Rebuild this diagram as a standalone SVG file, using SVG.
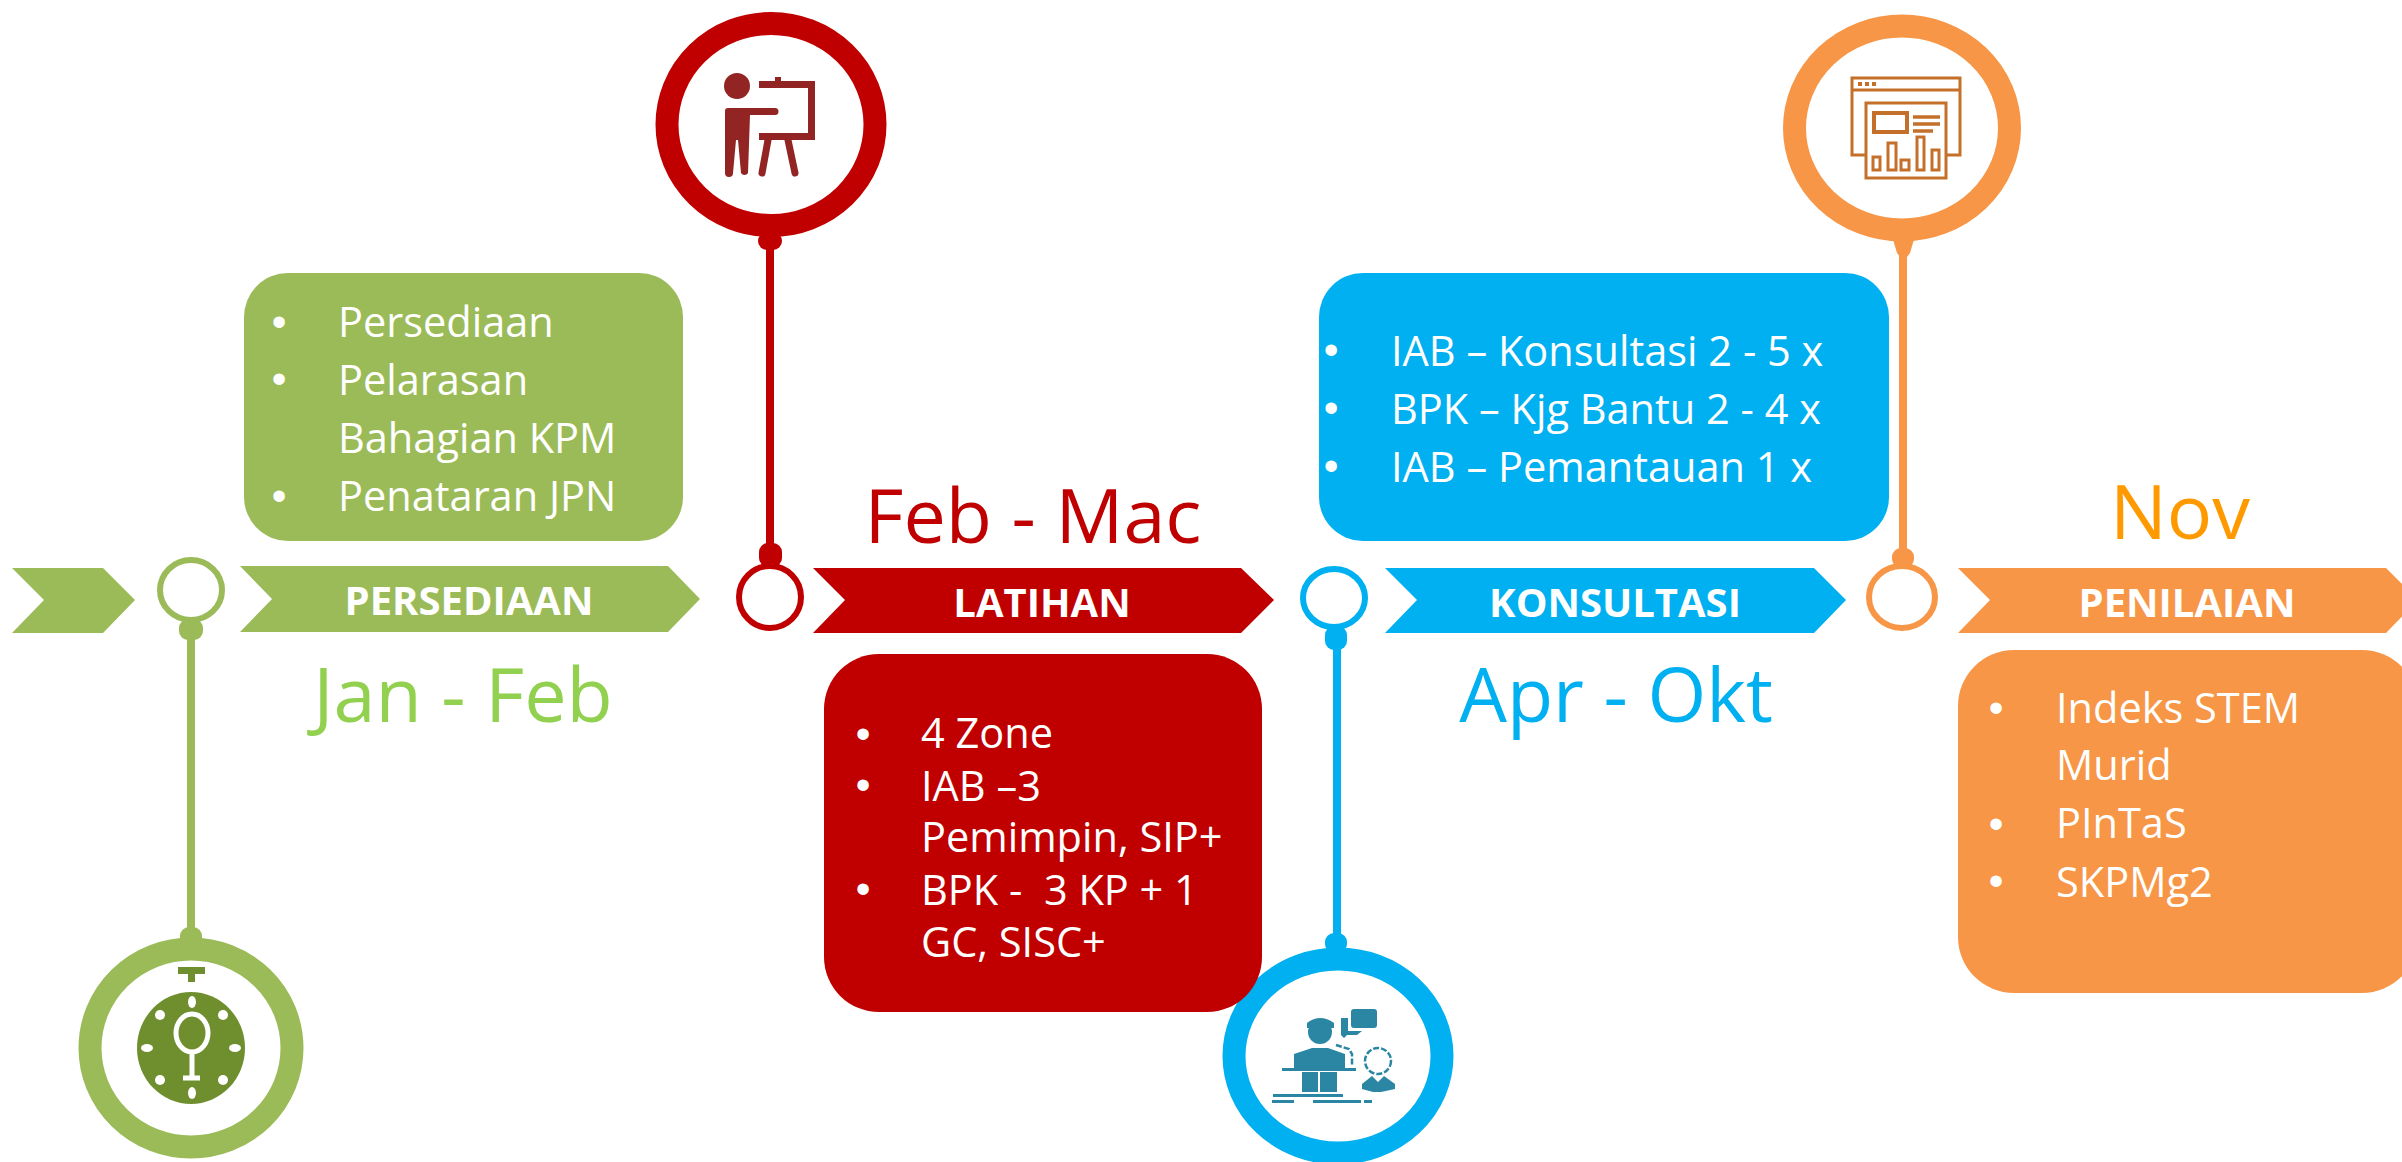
<svg xmlns="http://www.w3.org/2000/svg" width="2402" height="1162" viewBox="0 0 2402 1162">
<style>
text{font-family:"Open Sans","Noto Sans","Liberation Sans",sans-serif}
.b{font-size:41.5px;fill:#fff;white-space:pre}
.bu{font-family:"Liberation Sans",sans-serif;font-size:42px;fill:#fff;text-anchor:middle}
.l{font-size:40px;font-weight:700;fill:#fff;text-anchor:middle}
.d{font-size:75.5px;text-anchor:middle}
.g{fill:#9BBB59}.r{fill:#C00000}.c{fill:#00B0F0}.o{fill:#F79646}
.ring{fill:#fff;stroke-width:6}
.big{fill:#fff;stroke-width:23}
</style>
<g id="connectors">
<rect x="187" y="630" width="8" height="300" class="g"/>
<rect x="179" y="619" width="24" height="21" rx="9" class="g"/>
<rect x="180" y="927" width="22" height="20" rx="9" class="g"/>
<rect x="766" y="240" width="8" height="320" class="r"/>
<rect x="758" y="232" width="24" height="18" rx="9" class="r"/>
<rect x="759" y="543" width="23" height="24" rx="9" class="r"/>
<rect x="1333" y="640" width="8" height="300" class="c"/>
<rect x="1325" y="626" width="22" height="24" rx="9" class="c"/>
<rect x="1325" y="933" width="22" height="20" rx="9" class="c"/>
<rect x="1899" y="245" width="8" height="310" class="o"/>
<path d="M1892 236h23l-5 17-3 4h-7l-3-4z" class="o"/>
<rect x="1892" y="548" width="22" height="20" rx="9" class="o"/>
</g>
<g id="arrow-start"><path class="g" d="M12 568H103L135 600 103 633H12L44 600z"/></g>
<g id="persediaan"><path class="g" d="M240 566H668L700 599 668 632H240L272 599z"/>
<text class="l" x="469" y="615">PERSEDIAAN</text></g>
<g id="latihan"><path class="r" d="M813 568H1241L1274 600 1241 633H813L845 600z"/>
<text class="l" x="1042" y="617">LATIHAN</text></g>
<g id="konsultasi"><path class="c" d="M1385 568H1814L1846 600 1814 633H1385L1417 600z"/>
<text class="l" x="1615" y="617">KONSULTASI</text></g>
<g id="penilaian"><path class="o" d="M1958 568H2386L2418 600 2386 633H1958L1990 600z"/>
<text class="l" x="2187" y="617">PENILAIAN</text></g>
<g id="ring-1"><ellipse class="ring" cx="191" cy="590" rx="31" ry="30" stroke="#9BBB59"/></g>
<g id="ring-2"><ellipse class="ring" cx="770" cy="597" rx="31" ry="31" stroke="#C00000"/></g>
<g id="ring-3"><ellipse class="ring" cx="1334" cy="598" rx="31" ry="29" stroke="#00B0F0"/></g>
<g id="ring-4"><ellipse class="ring" cx="1902" cy="597" rx="33" ry="31" stroke="#F79646"/></g>
<g id="icon-green">
<ellipse class="big" cx="191" cy="1048" rx="101" ry="99" stroke="#9BBB59"/>
<ellipse cx="191" cy="1048" rx="54" ry="56" fill="#6F8F2F"/>
<path d="M178 967h27v7h-10v8h-7v-8h-10z" fill="#6F8F2F"/>
<g fill="#fff"><ellipse cx="192" cy="1002" rx="4" ry="6"/><ellipse cx="192" cy="1093" rx="4" ry="6"/><ellipse cx="147" cy="1048" rx="6" ry="4"/><ellipse cx="235" cy="1048" rx="6" ry="4"/><circle cx="160" cy="1015" r="5"/><circle cx="223" cy="1015" r="5"/><circle cx="160" cy="1080" r="5"/><circle cx="223" cy="1080" r="5"/></g>
<ellipse cx="192" cy="1033" rx="16" ry="19" fill="none" stroke="#fff" stroke-width="5"/>
<path d="M192 1052v25M183 1078h17" stroke="#fff" stroke-width="5" fill="none"/>
</g>
<g id="icon-red">
<ellipse class="big" cx="771" cy="124.500" rx="104" ry="101" stroke="#C00000"/>
<circle cx="737" cy="86" r="13" fill="#922424"/>
<path d="M728 108H775a3.500 3.500 0 0 1 0 7H750L748 173a4 4 0 0 1-7 0L738 140H736L733 173a4 4 0 0 1-8 0V111a3 3 0 0 1 3-3z" fill="#922424"/>
<path d="M759 81H775V77h6v4H815V140H759V133H808V88H759z" fill="#922424"/>
<path d="M768 140L762 173M788 140L795 173" stroke="#922424" stroke-width="7" stroke-linecap="round"/>
</g>
<g id="icon-blue">
<ellipse class="big" cx="1338" cy="1056" rx="104" ry="97" stroke="#00B0F0"/>
<g fill="#2A86A3">
<circle cx="1320" cy="1032" r="12"/><path d="M1307 1023q13-10 27 0v5h-27z"/>
<path d="M1294 1054l18-6h16l17 6v16h-51zM1282 1068h74v3h-74zM1302 1072h16v20h-16zM1320 1072h17v20h-17zM1273 1094h70v3h-70zM1272 1100h22v3h-22zM1313 1100h48v3h-48zM1364 1100h8v3h-8z"/>
<path d="M1354 1009h20a3 3 0 0 1 3 3v13a3 3 0 0 1-3 3h-20a3 3 0 0 1-3-3v-13a3 3 0 0 1 3-3zM1341 1018h7v13h14l-5 4h-10l-3 3-3-3z"/>
<path d="M1362 1084l10-8 6 6 6-6 11 8v5l-14 3h-8l-11-3z"/>
</g>
<circle cx="1378" cy="1061" r="13" fill="none" stroke="#2A86A3" stroke-width="2.500" stroke-dasharray="6 2"/>
<path d="M1336 1045l13 4 3 5v12" fill="none" stroke="#2A86A3" stroke-width="2.500" stroke-dasharray="6 2"/>
</g>
<g id="icon-orange">
<ellipse class="big" cx="1902" cy="128" rx="107.500" ry="102" stroke="#F79646"/>
<g fill="none" stroke="#C5702A" stroke-width="3">
<path d="M1866 155H1852V78H1960V155H1946M1852 90H1960"/>
<path d="M1858 84h4M1865 84h4M1872 84h4" stroke-width="4"/>
<rect x="1866" y="103" width="80" height="75"/>
<rect x="1874" y="113" width="33" height="19" stroke-width="4"/>
<path d="M1913 117H1940M1913 124H1940M1913 131H1933" stroke-width="3.500"/>
<rect x="1873" y="157" width="7" height="13"/><rect x="1888" y="143" width="8" height="27"/><rect x="1901" y="160" width="8" height="10"/><rect x="1917" y="137" width="7" height="33"/><rect x="1932" y="150" width="7" height="20"/>
</g>
</g>
<g id="box-persediaan"><rect class="g" x="244" y="273" width="439" height="268" rx="44"/>
<text class="bu" x="279" y="336">•</text><text class="b" x="338" y="337">Persediaan</text>
<text class="bu" x="279" y="393">•</text><text class="b" x="338" y="395">Pelarasan</text>
<text class="b" x="338" y="453">Bahagian KPM</text>
<text class="bu" x="279" y="510">•</text><text class="b" x="338" y="511">Penataran JPN</text></g>
<g id="box-latihan"><rect class="r" x="824" y="654" width="438" height="358" rx="55"/>
<text class="bu" x="863" y="748">•</text><text class="b" x="921" y="748">4 Zone</text>
<text class="bu" x="863" y="799">•</text><text class="b" x="921" y="801">IAB –3</text>
<text class="b" x="921" y="852">Pemimpin, SIP+</text>
<text class="bu" x="863" y="903">•</text><text class="b" x="921" y="905">BPK -  3 KP + 1</text>
<text class="b" x="921" y="957">GC, SISC+</text></g>
<g id="box-konsultasi"><rect class="c" x="1319" y="273" width="570" height="268" rx="44"/>
<text class="bu" x="1331" y="364">•</text><text class="b" x="1391" y="366">IAB – Konsultasi 2 - 5 x</text>
<text class="bu" x="1331" y="422">•</text><text class="b" x="1391" y="424">BPK – Kjg Bantu 2 - 4 x</text>
<text class="bu" x="1331" y="480">•</text><text class="b" x="1391" y="482">IAB – Pemantauan 1 x</text></g>
<g id="box-penilaian"><rect class="o" x="1958" y="650" width="460" height="343" rx="56"/>
<text class="bu" x="1996" y="722">•</text><text class="b" x="2056" y="723">Indeks STEM</text>
<text class="b" x="2056" y="780">Murid</text>
<text class="bu" x="1996" y="838">•</text><text class="b" x="2056" y="838">PInTaS</text>
<text class="bu" x="1996" y="895">•</text><text class="b" x="2056" y="897">SKPMg2</text></g>
<text class="d" x="463" y="722" fill="#92D050">Jan - Feb</text>
<text class="d" x="1033" y="543" fill="#C00000">Feb - Mac</text>
<text class="d" x="1616" y="722" fill="#00B0F0">Apr - Okt</text>
<text class="d" x="2180" y="539" fill="#FF9900">Nov</text>
</svg>
